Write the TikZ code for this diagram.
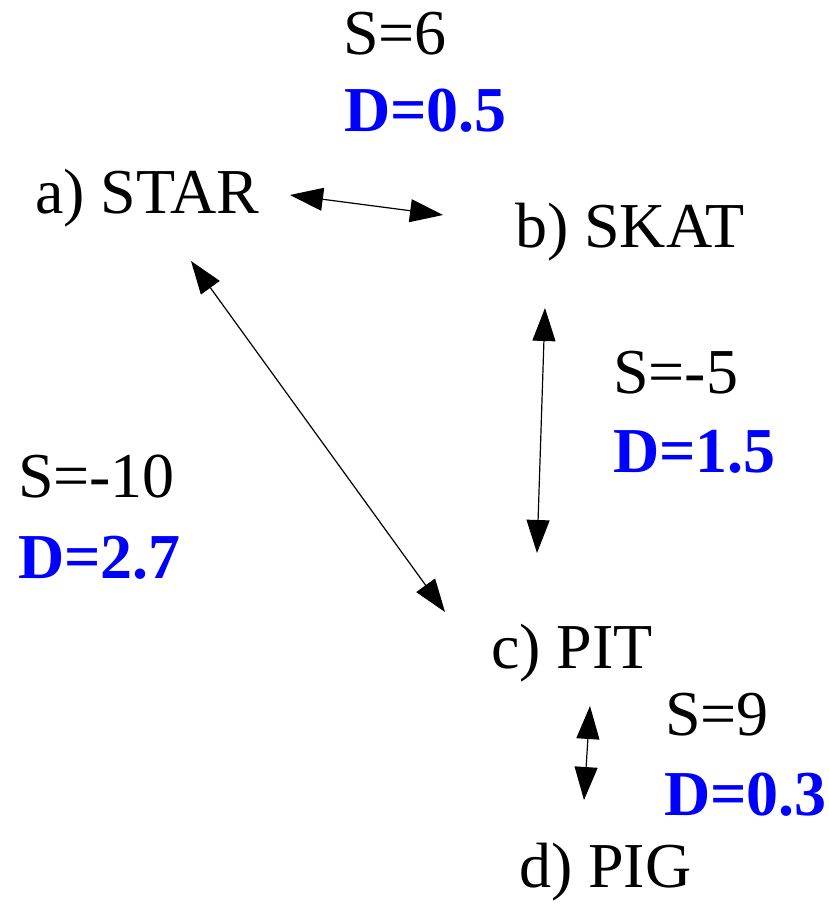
\documentclass[tikz,border=0pt]{standalone}
\usepackage{fontspec}
\setmainfont{Liberation Serif}
\usetikzlibrary{arrows.meta}
\definecolor{dblue}{RGB}{0,0,255}
\begin{document}
\begin{tikzpicture}[x=1pt,y=-1pt,
  lab/.style={anchor=base west,inner sep=0pt,outer sep=0pt,font=\fontsize{64}{64}\selectfont},
  dval/.style={lab,text=dblue,font=\fontsize{64}{64}\selectfont\bfseries},
  arr/.style={{Triangle[length=33pt,width=23pt]}-{Triangle[length=33pt,width=23pt]},line width=1.2pt}]
\useasboundingbox (0,0) rectangle (829,904);
% nodes
\node[lab] (star) at (35,213) {a) STAR};
\node[lab] (skat) at (515,247) {b) SKAT};
\node[lab] (pit) at (491,668) {c) PIT};
\node[lab] (pig) at (519,887) {d) PIG};
% labels
\node[lab] (s1) at (343,55) {S=6};
\node[dval] (d1) at (344,132) {D=0.5};
\node[lab] (s2) at (613,393) {S=-5};
\node[dval] (d2) at (613,472) {D=1.5};
\node[lab] (s3) at (18,497) {S=-10};
\node[dval] (d3) at (18,578) {D=2.7};
\node[lab] (s4) at (665,735) {S=9};
\node[dval] (d4) at (664,815) {D=0.3};
% arrow ends
\coordinate (star-e) at (290,195);
\coordinate (skat-w) at (443,215);
\coordinate (star-s) at (191,261);
\coordinate (pit-nw) at (445,612);
\coordinate (skat-s) at (545,308);
\coordinate (pit-n) at (537,553);
\coordinate (pit-s) at (590,706);
\coordinate (pig-n) at (584,800);
% connectors
\draw[arr] (star-e) -- (skat-w);
\draw[arr] (star-s) -- (pit-nw);
\draw[arr] (skat-s) -- (pit-n);
\draw[arr] (pit-s) -- (pig-n);
\end{tikzpicture}
\end{document}
